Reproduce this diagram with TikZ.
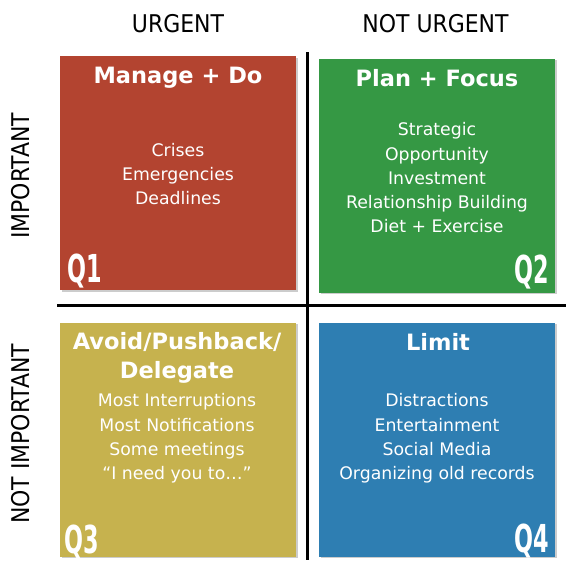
\documentclass[tikz,border=0pt]{standalone}
\usepackage{fontspec}
\setmainfont{DejaVu Sans}
\newfontfamily\condfont{DejaVu Sans Condensed}
\usetikzlibrary{shadows}
\definecolor{qred}{RGB}{179,68,48}
\definecolor{qgreen}{RGB}{53,152,68}
\definecolor{qyellow}{RGB}{198,178,78}
\definecolor{qblue}{RGB}{46,126,178}
\begin{document}
\begin{tikzpicture}[x=1pt,y=-1pt,
  quad/.style={draw=none, inner sep=0pt, minimum width=236pt, minimum height=234pt,
    drop shadow={shadow xshift=1.5pt, shadow yshift=-1.5pt, opacity=0.2, fill=black}},
  head/.style={font=\condfont\fontsize{24.4}{28}\selectfont, text=black, inner sep=0pt},
  title/.style={font=\bfseries\fontsize{22.5}{28.5}\selectfont, text=white, align=center, inner sep=0pt},
  body/.style={font=\fontsize{17.3}{24.2}\selectfont, text=white, align=center, inner sep=0pt},
  qlabel/.style={font=\bfseries\fontsize{38.5}{40}\selectfont, text=white, inner sep=0pt},
  axis/.style={line width=3pt, black}]
\useasboundingbox (0,0) rectangle (566,565);
\fill[white] (0,0) rectangle (566,565);

% quadrants
\node[quad, fill=qred]    (q1) at (178,173)   {};
\node[quad, fill=qgreen]  (q2) at (437,175.5) {};
\node[quad, fill=qyellow] (q3) at (178,439.5) {};
\node[quad, fill=qblue]   (q4) at (437,439.5) {};

% axes
\coordinate (vtop) at (307,52);
\coordinate (vbot) at (307,560);
\coordinate (hleft) at (57,305.5);
\coordinate (hright) at (566,305.5);
\draw[axis] (vtop) -- (vbot);
\draw[axis] (hleft) -- (hright);

% headers
\node[head, anchor=base] (hu) at (178,32) {URGENT};
\node[head, anchor=base] (hn) at (435.5,32) {NOT URGENT};
\node[head, anchor=base, rotate=90] (si) at (30,176) {IMPORTANT};
\node[head, anchor=base, rotate=90] (sn) at (30,434) {NOT IMPORTANT};

% titles
\node[title, anchor=base] (t1) at (178,83.3) {Manage + Do};
\node[title, anchor=base] (t2) at (437,86.7) {Plan + Focus};
\node[title, anchor=base] (t3a) at (177,349) {Avoid/Pushback/};
\node[title, anchor=base] (t3b) at (177,378) {Delegate};
\node[title, anchor=base] (t4) at (438,350) {Limit};

% bodies
\node[body, anchor=north] (b1) at (178,143) {Crises\\Emergencies\\Deadlines};
\node[body, anchor=north] (b2) at (437,122.5) {Strategic\\Opportunity\\Investment\\Relationship Building\\Diet + Exercise};
\node[body, anchor=north] (b3) at (177,393.5) {Most Interruptions\\Most Notifications\\Some meetings\\“I need you to…”};
\node[body, anchor=north] (b4) at (437,393.5) {Distractions\\Entertainment\\Social Media\\Organizing old records};

% quadrant labels
\node[qlabel, anchor=base west] (l1) at (67,282) {\scalebox{0.58}[1]{Q1}};
\node[qlabel, anchor=base east] (l2) at (549.5,283) {\scalebox{0.58}[1]{Q2}};
\node[qlabel, anchor=base west] (l3) at (64,553) {\scalebox{0.58}[1]{Q3}};
\node[qlabel, anchor=base east] (l4) at (549.5,552) {\scalebox{0.58}[1]{Q4}};
\end{tikzpicture}
\end{document}
